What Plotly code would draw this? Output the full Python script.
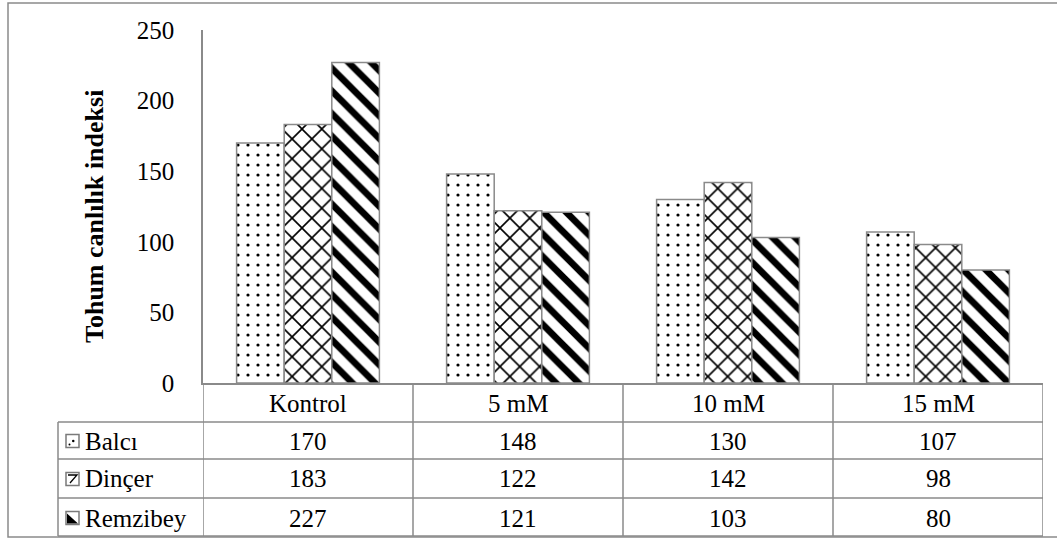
import plotly.graph_objects as go

categories = ["Kontrol", "5 mM", "10 mM", "15 mM"]
series_names = ["Balcı", "Dinçer", "Remzibey"]
balci = [170, 148, 130, 107]
dincer = [183, 122, 142, 98]
remzibey = [227, 121, 103, 80]
y_ticks = [0, 50, 100, 150, 200, 250]
y_title = "Tohum canlılık indeksi"

values = [balci, dincer, remzibey]
patterns = [dict(shape=".", size=10, solidity=0.08),
            dict(shape="x", size=14, solidity=0.22),
            dict(shape="\\", size=16, solidity=0.42)]

FONT = "Liberation Serif"
GRAY = "#8a8a8a"

fig = go.Figure()
for name, vals, pat in zip(series_names, values, patterns):
    fig.add_trace(go.Bar(
        x=categories, y=vals, name=name,
        marker=dict(color="white",
                    line=dict(color=GRAY, width=1.5),
                    pattern=dict(fgcolor="black", bgcolor="white", fgopacity=1, **pat)),
        showlegend=False, hoverinfo="skip"))

W, H = 1057, 538
L, R, T, B = 203, 1043, 30, 383
pw, ph = R - L, B - T

def px(xp):
    return (xp - L) / pw

def py(yp):
    return (B - yp) / ph

row_lines = [422, 459, 498, 536]
row_centers = [441, 479, 518]
header_center = 403
leg_left = 58

shapes = []
shapes.append(dict(type="rect", xref="paper", yref="paper",
                   x0=px(8), x1=px(1070), y0=py(537), y1=py(3),
                   line=dict(color=GRAY, width=1.5), fillcolor="rgba(0,0,0,0)", layer="below"))
n = len(categories)
for i in range(n + 1):
    shapes.append(dict(type="line", xref="x", yref="paper",
                       x0=i - 0.5, x1=i - 0.5, y0=0, y1=py(row_lines[-1]),
                       line=dict(color=GRAY, width=1.5)))
shapes.append(dict(type="line", xref="paper", yref="paper",
                   x0=px(leg_left), x1=px(leg_left), y0=py(row_lines[0]), y1=py(row_lines[-1]),
                   line=dict(color=GRAY, width=1.5)))
for yl in row_lines:
    shapes.append(dict(type="line", xref="paper", yref="paper",
                       x0=px(leg_left), x1=1, y0=py(yl), y1=py(yl),
                       line=dict(color=GRAY, width=1.5)))

# legend key icons
ix0, ix1 = 66, 79
for r, yc in enumerate(row_centers):
    y0p, y1p = yc - 6.5, yc + 6.5
    shapes.append(dict(type="rect", xref="paper", yref="paper",
                       x0=px(ix0), x1=px(ix1), y0=py(y1p), y1=py(y0p),
                       line=dict(color="#7a7a7a", width=1.5), fillcolor="white"))
    if r == 0:
        shapes.append(dict(type="circle", xref="paper", yref="paper",
                           x0=px(72), x1=px(74.5), y0=py(yc + 1.2), y1=py(yc - 1.2),
                           line=dict(width=0), fillcolor="black"))
        shapes.append(dict(type="circle", xref="paper", yref="paper",
                           x0=px(68.5), x1=px(70.5), y0=py(yc + 4.5), y1=py(yc + 2.5),
                           line=dict(width=0), fillcolor="black"))
    elif r == 1:
        path = (f"M {px(68)},{py(y0p + 2.5)} L {px(77)},{py(y0p + 2.5)} "
                f"L {px(70)},{py(y1p - 2.5)}")
        shapes.append(dict(type="path", xref="paper", yref="paper", path=path,
                           line=dict(color="black", width=1.3)))
    else:
        path = (f"M {px(ix0 + 1)},{py(y0p + 2)} L {px(ix1 - 1)},{py(y1p - 1)} "
                f"L {px(ix0 + 1)},{py(y1p - 1)} Z")
        shapes.append(dict(type="path", xref="paper", yref="paper", path=path,
                           line=dict(width=0), fillcolor="black"))

annotations = []
FS = 25
for c in categories:
    annotations.append(dict(x=c, xref="x", y=py(header_center), yref="paper",
                            text=c, showarrow=False, xanchor="center", yanchor="middle",
                            font=dict(family=FONT, size=FS, color="black")))
for r, (name, vals) in enumerate(zip(series_names, values)):
    yc = py(row_centers[r])
    annotations.append(dict(x=px(83), xref="paper", y=yc, yref="paper",
                            text=name, showarrow=False, xanchor="left", yanchor="middle",
                            font=dict(family=FONT, size=FS, color="black")))
    for c, v in zip(categories, vals):
        annotations.append(dict(x=c, xref="x", y=yc, yref="paper",
                                text=str(v), showarrow=False, xanchor="center", yanchor="middle",
                                font=dict(family=FONT, size=FS, color="black")))
annotations.append(dict(x=px(94), xref="paper", y=py(216), yref="paper",
                        text=f"<b>{y_title}</b>", textangle=-90, showarrow=False,
                        xanchor="center", yanchor="middle",
                        font=dict(family=FONT, size=26, color="black")))

fig.update_layout(
    width=W, height=H,
    margin=dict(l=L, r=W - R, t=T, b=H - B, pad=0),
    paper_bgcolor="white", plot_bgcolor="white",
    barmode="group", bargap=0.32, bargroupgap=0,
    shapes=shapes, annotations=annotations,
    xaxis=dict(range=[-0.5, n - 0.5], showticklabels=False, showgrid=False,
               showline=True, linecolor=GRAY, linewidth=1.5, ticks="", zeroline=False),
    yaxis=dict(range=[0, 250], tickvals=y_ticks, showgrid=False, zeroline=False,
               showline=True, linecolor=GRAY, linewidth=1.5, ticks="",
               ticklabelstandoff=22,
               tickfont=dict(family=FONT, size=FS, color="black")),
)

fig.write_html("out.html", config={"displayModeBar": False},
               post_script="document.body.style.margin='0px';document.body.style.overflow='hidden';")
